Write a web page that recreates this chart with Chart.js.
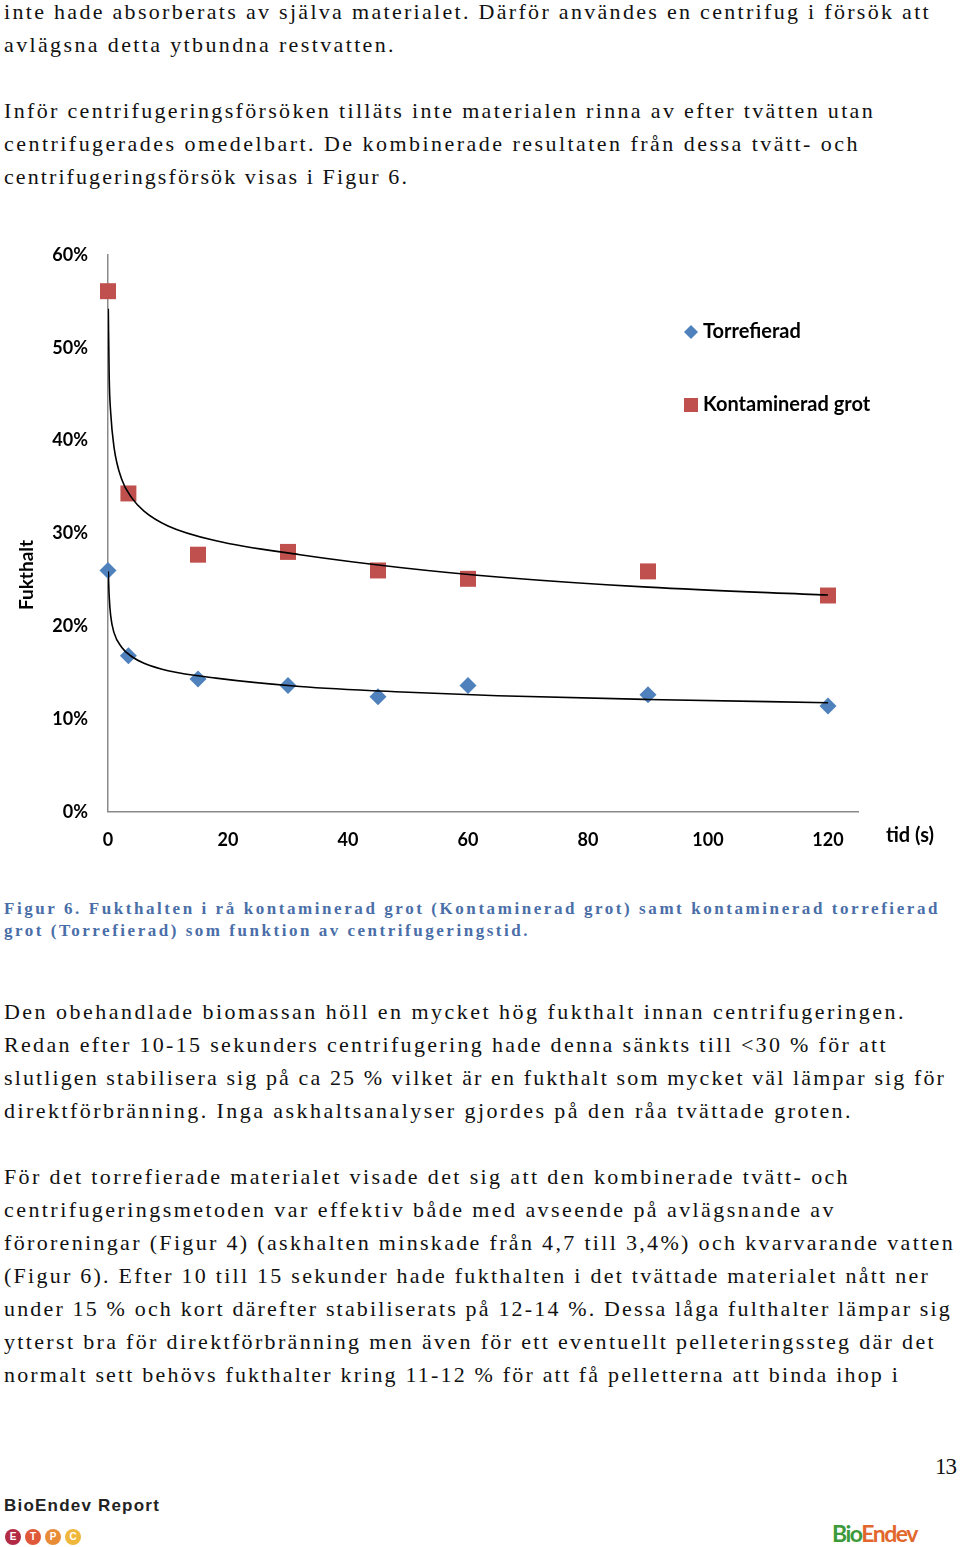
<!DOCTYPE html>
<html lang="sv">
<head>
  <meta charset="UTF-8" />
  <title>Figur 6 - Fukthalt</title>
  <script src="https://cdn.jsdelivr.net/npm/chart.js"></script>
  <style>
    body { margin: 0; background: #fff; }
    #page { position: relative; width: 960px; height: 1547px; overflow: hidden; }
    .ln { position: absolute; left: 4px; white-space: nowrap; font-family: "Liberation Serif", serif;
          font-size: 22px; line-height: 33px; color: #111; }
    .cap { font-weight: bold; font-size: 17px; line-height: 22px; color: #4a6ea8; }
    #chartBox { position: absolute; left: 0; top: 230px; width: 960px; height: 640px; }
    .dot { position: absolute; top: 1529px; width: 16px; height: 16px; border-radius: 50%; color: #fff;
           font: bold 10px "Liberation Sans", sans-serif; text-align: center; line-height: 16px; }
  </style>
</head>
<body>
<div id="page">
  <div class="ln fit" data-y="11" data-w="927">inte hade absorberats av själva materialet. Därför användes en centrifug i försök att</div>
  <div class="ln fit" data-y="44" data-w="392">avlägsna detta ytbundna restvatten.</div>
  <div class="ln fit" data-y="110" data-w="871">Inför centrifugeringsförsöken tilläts inte materialen rinna av efter tvätten utan</div>
  <div class="ln fit" data-y="143" data-w="856">centrifugerades omedelbart. De kombinerade resultaten från dessa tvätt- och</div>
  <div class="ln fit" data-y="176" data-w="405">centrifugeringsförsök visas i Figur 6.</div>

  <div id="chartBox"><canvas id="fuktChart" width="960" height="640"></canvas></div>

  <div class="ln cap fit" data-y="909" data-w="936">Figur 6. Fukthalten i rå kontaminerad grot (Kontaminerad grot) samt kontaminerad torrefierad</div>
  <div class="ln cap fit" data-y="931" data-w="526">grot (Torrefierad) som funktion av centrifugeringstid.</div>

  <div class="ln fit" data-y="1011" data-w="902">Den obehandlade biomassan höll en mycket hög fukthalt innan centrifugeringen.</div>
  <div class="ln fit" data-y="1044" data-w="884">Redan efter 10-15 sekunders centrifugering hade denna sänkts till &lt;30 % för att</div>
  <div class="ln fit" data-y="1077" data-w="942">slutligen stabilisera sig på ca 25 % vilket är en fukthalt som mycket väl lämpar sig för</div>
  <div class="ln fit" data-y="1110" data-w="849">direktförbränning. Inga askhaltsanalyser gjordes på den råa tvättade groten.</div>

  <div class="ln fit" data-y="1176" data-w="846">För det torrefierade materialet visade det sig att den kombinerade tvätt- och</div>
  <div class="ln fit" data-y="1209" data-w="832">centrifugeringsmetoden var effektiv både med avseende på avlägsnande av</div>
  <div class="ln fit" data-y="1242" data-w="951">föroreningar (Figur 4) (askhalten minskade från 4,7 till 3,4%) och kvarvarande vatten</div>
  <div class="ln fit" data-y="1275" data-w="926">(Figur 6). Efter 10 till 15 sekunder hade fukthalten i det tvättade materialet nått ner</div>
  <div class="ln fit" data-y="1308" data-w="948">under 15 % och kort därefter stabiliserats på 12-14 %. Dessa låga fulthalter lämpar sig</div>
  <div class="ln fit" data-y="1341" data-w="932">ytterst bra för direktförbränning men även för ett eventuellt pelleteringssteg där det</div>
  <div class="ln fit" data-y="1374" data-w="896">normalt sett behövs fukthalter kring 11-12 % för att få pelletterna att binda ihop i</div>

  <div class="ln" style="left:935px; top:1450px; font-size:23px; letter-spacing:-1px;">13</div>
  <div class="ln fit" data-y="1505" data-w="156" style="font-family:'Liberation Sans',sans-serif; font-weight:bold; font-size:17px; color:#222;">BioEndev Report</div>
  <div class="dot" style="left:5px; background:#b32a45;">E</div>
  <div class="dot" style="left:25px; background:#e0583a;">T</div>
  <div class="dot" style="left:45px; background:#e88c38;">P</div>
  <div class="dot" style="left:65px; background:#efb83d;">C</div>
  <div class="ln fit" data-y="1533" data-w="85" style="left:832px; font-family:Lato,sans-serif; font-weight:bold; font-size:23px;"><span style="color:#3c9a3a">Bio</span><span style="color:#e2672c">Endev</span></div>
</div>

<script>
  // text lines: place by centre y and stretch to the measured width
  document.querySelectorAll('.ln').forEach(el => {
    if (el.dataset.y) {
      const h = parseFloat(getComputedStyle(el).lineHeight);
      el.style.top = (parseFloat(el.dataset.y) - h / 2) + 'px';
    }
    if (el.dataset.w) {
      el.style.letterSpacing = '0px';
      const w = el.getBoundingClientRect().width;
      const n = el.textContent.length;
      el.style.letterSpacing = ((parseFloat(el.dataset.w) - w) / n) + 'px';
    }
  });

  // measured points (tid i s, fukthalt i %)
  const times = [0, 3.4, 15, 30, 45, 60, 90, 120];
  const torrefierad = [26.0, 16.8, 14.3, 13.6, 12.4, 13.6, 12.6, 11.4];
  const kontaminerad = [56.1, 34.3, 27.7, 28.0, 26.0, 25.1, 25.9, 23.3];

  // trend curves
  const trendTimes = [0.05, 0.2, 0.45, 1, 2.3, 4, 6, 10, 18, 32, 49, 65, 90, 120];
  const trendTorrefierad = [25.9, 23.2, 21.1, 19.3, 17.7, 16.7, 16.0, 15.2, 14.4, 13.5, 12.9, 12.5, 12.1, 11.75];
  const trendKontaminerad = [54.2, 46.8, 43.0, 39.3, 35.8, 33.8, 32.4, 30.8, 29.2, 27.7, 26.3, 25.3, 24.2, 23.35];

  const yTicks = [0, 10, 20, 30, 40, 50, 60];
  const xTicks = [0, 20, 40, 60, 80, 100, 120];

  const blue = '#4f81bd';
  const red = '#c0504d';
  const axisGrey = '#8a8a8a';
  const font = { family: 'Lato', weight: 'bold', size: 18 };

  const pts = (xs, ys) => xs.map((x, i) => ({ x: x, y: ys[i] }));

  const extras = {
    id: 'extras',
    afterDraw(chart) {
      const ctx = chart.ctx;
      ctx.save();
      ctx.font = 'bold 20px Lato';
      ctx.fillStyle = '#000';
      ctx.textBaseline = 'middle';
      // legend
      ctx.fillText('Torrefierad', 703, 102);
      ctx.fillText('Kontaminerad grot', 703, 175);
      ctx.fillStyle = blue;
      ctx.beginPath();
      ctx.moveTo(691, 95); ctx.lineTo(698, 102); ctx.lineTo(691, 109); ctx.lineTo(684, 102);
      ctx.closePath(); ctx.fill();
      ctx.fillStyle = red;
      ctx.fillRect(684, 168, 14, 14);
      // x axis unit
      ctx.fillStyle = '#000';
      ctx.fillText('tid (s)', 886, 606);
      // y axis title
      ctx.translate(27, 345);
      ctx.rotate(-Math.PI / 2);
      ctx.textAlign = 'center';
      ctx.font = 'bold 19px Lato';
      ctx.fillText('Fukthalt', 0, 0);
      ctx.restore();
    }
  };

  new Chart(document.getElementById('fuktChart'), {
    type: 'scatter',
    data: {
      datasets: [
        { label: 'trend Torrefierad', data: pts(trendTimes, trendTorrefierad), showLine: true,
          borderColor: '#000', borderWidth: 1.6, pointRadius: 0, cubicInterpolationMode: 'monotone', order: 0 },
        { label: 'trend Kontaminerad grot', data: pts(trendTimes, trendKontaminerad), showLine: true,
          borderColor: '#000', borderWidth: 1.6, pointRadius: 0, cubicInterpolationMode: 'monotone', order: 0 },
        { label: 'Torrefierad', data: pts(times, torrefierad), pointStyle: 'rectRot', pointRadius: 8.5,
          backgroundColor: blue, borderColor: blue, borderWidth: 0, clip: false, order: 1 },
        { label: 'Kontaminerad grot', data: pts(times, kontaminerad), pointStyle: 'rect', pointRadius: 11.3,
          backgroundColor: red, borderColor: red, borderWidth: 0, clip: false, order: 1 }
      ]
    },
    options: {
      responsive: false,
      animation: false,
      devicePixelRatio: 1,
      layout: { padding: { top: 25, right: 102, left: 0, bottom: 0 } },
      plugins: { legend: { display: false }, tooltip: { enabled: false } },
      scales: {
        x: {
          type: 'linear', min: 0, max: 125,
          grid: { display: false, drawTicks: false },
          border: { display: true, color: axisGrey, width: 1.5 },
          afterBuildTicks: s => { s.ticks = xTicks.map(v => ({ value: v })); },
          afterFit: s => { s.height = 58.3; },
          ticks: { color: '#000', font: font, padding: 18, maxRotation: 0 }
        },
        y: {
          min: 0, max: 60,
          grid: { display: false, drawTicks: false },
          border: { display: true, color: axisGrey, width: 1.5 },
          afterBuildTicks: s => { s.ticks = yTicks.map(v => ({ value: v })); },
          afterFit: s => { s.width = 108; s.paddingTop = 0; s.paddingBottom = 0; },
          ticks: { color: '#000', font: font, padding: 20, callback: v => v + '%' }
        }
      }
    },
    plugins: [extras]
  });
</script>
</body>
</html>
